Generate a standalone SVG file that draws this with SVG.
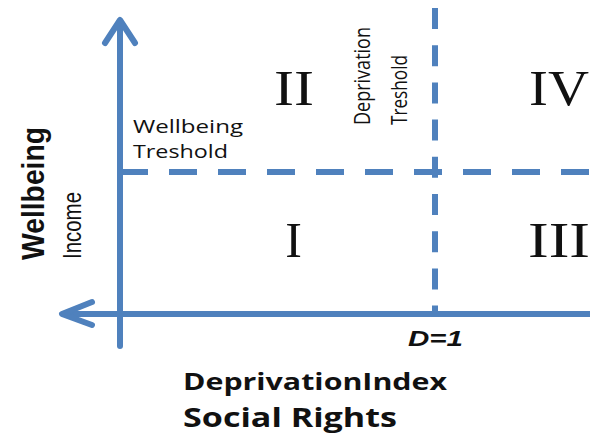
<svg xmlns="http://www.w3.org/2000/svg" width="590" height="436" viewBox="0 0 590 436">
<style>
.ax{stroke:#4F81BD;stroke-width:6;fill:none;stroke-linecap:round;stroke-linejoin:round}
.dash{stroke:#4F81BD;stroke-width:6;fill:none;stroke-linecap:butt}
.lbl{font-family:"Open Sans","Liberation Sans",sans-serif;fill:#111}
.rom{font-family:"Liberation Serif","Times New Roman",serif;font-size:50px;fill:#111;text-anchor:middle}
.bold{font-family:"Open Sans","Liberation Sans",sans-serif;font-weight:bold;fill:#111}
.arial{font-family:"Liberation Sans",Arial,sans-serif;fill:#111}
</style>
<rect width="590" height="436" fill="#fff"/>
<g id="connectors">
<line class="dash" x1="120" y1="172" x2="590" y2="172" stroke-dasharray="28 21"/>
<line class="dash" x1="435" y1="8" x2="435" y2="314" stroke-dasharray="21 16.2"/>
<line class="ax" x1="120" y1="22" x2="120" y2="346"/>
<polyline class="ax" points="105,43 120,20 135,43"/>
<line class="ax" x1="64" y1="314" x2="590" y2="314"/>
<polyline class="ax" points="92,302 62,314 92,325"/>
</g>
<g id="wellbeing-threshold">
<text class="lbl" x="133" y="133" font-size="18.5" textLength="110" lengthAdjust="spacingAndGlyphs">Wellbeing</text>
<text class="lbl" x="133" y="158" font-size="18.5" textLength="95" lengthAdjust="spacingAndGlyphs">Treshold</text>
</g>
<g id="deprivation-threshold">
<text class="lbl" transform="translate(370,125) rotate(-90)" font-size="22" textLength="98" lengthAdjust="spacingAndGlyphs">Deprivation</text>
<text class="lbl" transform="translate(407,125) rotate(-90)" font-size="22" textLength="70" lengthAdjust="spacingAndGlyphs">Treshold</text>
</g>
<g id="y-labels">
<text class="arial" font-weight="bold" transform="translate(44,260) rotate(-90)" font-size="31" textLength="133" lengthAdjust="spacingAndGlyphs">Wellbeing</text>
<text class="arial" transform="translate(81,259) rotate(-90)" font-size="26" textLength="67" lengthAdjust="spacingAndGlyphs">Income</text>
</g>
<g id="quadrant-II"><text class="rom" x="294" y="105" textLength="40" lengthAdjust="spacingAndGlyphs">II</text></g>
<g id="quadrant-IV"><text class="rom" x="559" y="105" textLength="60" lengthAdjust="spacingAndGlyphs">IV</text></g>
<g id="quadrant-I"><text class="rom" x="293.5" y="257">I</text></g>
<g id="quadrant-III"><text class="rom" x="559" y="257" textLength="62" lengthAdjust="spacingAndGlyphs">III</text></g>
<g id="d1"><text class="arial" font-weight="bold" font-style="italic" x="408" y="346" font-size="22" textLength="55" lengthAdjust="spacingAndGlyphs">D=1</text></g>
<g id="x-labels">
<text class="bold" x="183" y="390" font-size="23" textLength="264" lengthAdjust="spacingAndGlyphs">DeprivationIndex</text>
<text class="bold" x="183" y="427" font-size="27" textLength="214" lengthAdjust="spacingAndGlyphs">Social Rights</text>
</g>
</svg>
